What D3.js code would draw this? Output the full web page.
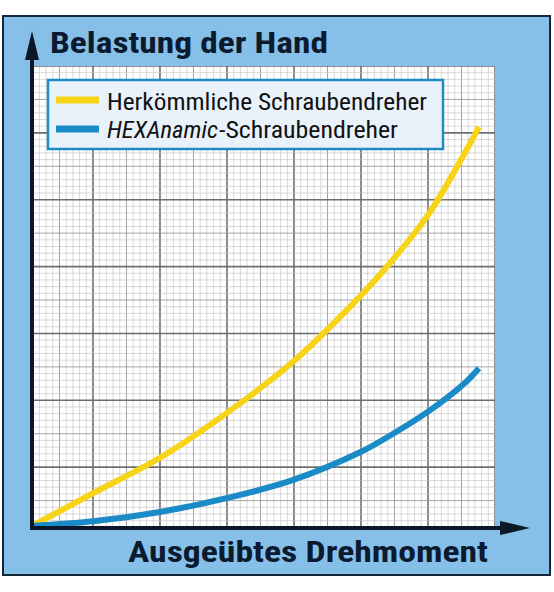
<!DOCTYPE html>
<html>
<head>
<meta charset="utf-8">
<script src="https://cdn.jsdelivr.net/npm/d3@7"></script>
<style>
  body { margin: 0; background: #fff; }
  svg { display: block; }
</style>
</head>
<body>
<svg id="chart"></svg>
<script>
// data: x = Drehmoment, y = Belastung, in small-grid units (10 = one big square)
const drehmoment = [0, 9.1, 19.1, 29.2, 39.0, 49.1, 53.4, 59.1, 64.6, 66.7];
const herkoemmlich = [0.3, 5.2, 10.5, 17.3, 24.9, 34.8, 39.6, 46.8, 56.1, 60.0];
const hexanamic = [0.3, 1.0, 2.4, 4.5, 7.2, 11.4, 13.8, 17.4, 21.7, 23.9];
const seriesNames = ["Herkömmliche Schraubendreher", "HEXAnamic-Schraubendreher"];
const seriesColors = ["#f7d417", "#1b8bc7"];

const width = 554, height = 592;
const plot = { left: 32, right: 495, top: 66, bottom: 528 };

const svg = d3.select("#chart")
    .attr("width", width)
    .attr("height", height);

// scales (origin at the axis corner)
let x = d3.scaleLinear()
    .domain([0, 69.1])
    .range([plot.left, plot.right]);

let y = d3.scaleLinear()
    .domain([0, 69.1])
    .range([plot.bottom, plot.top]);

// outer panel
svg.append("rect")
    .attr("x", 3).attr("y", 16)
    .attr("width", 547).attr("height", 559)
    .attr("fill", "#86bfe7")
    .attr("stroke", "#14263a")
    .attr("stroke-width", 2);

// graph paper
svg.append("defs").append("clipPath").attr("id", "paper")
  .append("rect")
    .attr("x", plot.left).attr("y", plot.top)
    .attr("width", plot.right - plot.left)
    .attr("height", plot.bottom - plot.top);

const paper = svg.append("g").attr("clip-path", "url(#paper)");
paper.append("rect")
    .attr("x", plot.left).attr("y", plot.top)
    .attr("width", plot.right - plot.left)
    .attr("height", plot.bottom - plot.top)
    .attr("fill", "#ffffff");

// grid lines every small unit, offset like a cut sheet of paper
const gridVals = d3.range(0, 71).map(i => i - 0.9);
function gridStyle(sel) {
    sel.attr("stroke", (d, i) => i % 10 === 0 ? "#6e6e6e" : i % 5 === 0 ? "#9a9a9a" : "#c0c0c0")
       .attr("stroke-width", (d, i) => i % 10 === 0 ? 1.6 : i % 5 === 0 ? 0.9 : 0.6);
}
paper.append("g").selectAll("line")
  .data(gridVals)
  .join("line")
    .attr("x1", d => x(d)).attr("x2", d => x(d))
    .attr("y1", plot.top).attr("y2", plot.bottom)
    .call(gridStyle);
paper.append("g").selectAll("line")
  .data(gridVals)
  .join("line")
    .attr("y1", d => y(d)).attr("y2", d => y(d))
    .attr("x1", plot.left).attr("x2", plot.right)
    .call(gridStyle);

// curves
const line = d3.line()
    .x(d => x(d[0]))
    .y(d => y(d[1]))
    .curve(d3.curveCatmullRom.alpha(0.5));

[herkoemmlich, hexanamic].forEach((vals, k) => {
    svg.append("path")
        .datum(drehmoment.map((t, i) => [t, vals[i]]))
        .attr("fill", "none")
        .attr("stroke", seriesColors[k])
        .attr("stroke-width", 6)
        .attr("stroke-linecap", "butt")
        .attr("d", line);
});

// axes with arrows
const axisColor = "#0b1626";
svg.append("line")
    .attr("x1", plot.left).attr("x2", plot.left)
    .attr("y1", plot.bottom + 2).attr("y2", 58)
    .attr("stroke", axisColor).attr("stroke-width", 4);
svg.append("line")
    .attr("x1", plot.left - 2).attr("x2", 502)
    .attr("y1", plot.bottom).attr("y2", plot.bottom)
    .attr("stroke", axisColor).attr("stroke-width", 4);
svg.append("path")
    .attr("d", "M25,60 L32,31 L39,60 Z")
    .attr("fill", axisColor);
svg.append("path")
    .attr("d", "M500,521 L530,528 L500,535 Z")
    .attr("fill", axisColor);

// titles
const condensed = "'Liberation Sans Narrow', 'Arial Narrow', 'Roboto Condensed', 'Liberation Sans', sans-serif";
svg.append("text")
    .attr("x", 50).attr("y", 53)
    .attr("font-family", condensed)
    .attr("font-weight", "bold")
    .attr("font-size", 30)
    .attr("fill", "#0c1a30")
    .attr("textLength", 278)
    .attr("lengthAdjust", "spacingAndGlyphs")
    .text("Belastung der Hand");

svg.append("text")
    .attr("x", 128).attr("y", 562)
    .attr("font-family", condensed)
    .attr("font-weight", "bold")
    .attr("font-size", 30)
    .attr("fill", "#0c1a30")
    .attr("textLength", 360)
    .attr("lengthAdjust", "spacingAndGlyphs")
    .text("Ausgeübtes Drehmoment");

// legend
const legend = svg.append("g");
legend.append("rect")
    .attr("x", 48).attr("y", 80)
    .attr("width", 395).attr("height", 69)
    .attr("fill", "#e9f2fa")
    .attr("stroke", "#1d8cc2")
    .attr("stroke-width", 2.5);

seriesColors.forEach((c, k) => {
    legend.append("line")
        .attr("x1", 56).attr("x2", 99)
        .attr("y1", 100 + k * 29).attr("y2", 100 + k * 29)
        .attr("stroke", c)
        .attr("stroke-width", 7);
});

legend.append("text")
    .attr("x", 107).attr("y", 110)
    .attr("font-family", condensed)
    .attr("font-size", 24)
    .attr("fill", "#111")
    .attr("textLength", 320)
    .attr("lengthAdjust", "spacingAndGlyphs")
    .text(seriesNames[0]);

legend.append("text")
    .attr("x", 107).attr("y", 138)
    .attr("font-family", condensed)
    .attr("font-size", 24)
    .attr("font-style", "italic")
    .attr("fill", "#111")
    .attr("textLength", 111)
    .attr("lengthAdjust", "spacingAndGlyphs")
    .text(seriesNames[1].split("-")[0]);

legend.append("text")
    .attr("x", 219).attr("y", 138)
    .attr("font-family", condensed)
    .attr("font-size", 24)
    .attr("fill", "#111")
    .attr("textLength", 179)
    .attr("lengthAdjust", "spacingAndGlyphs")
    .text("-" + seriesNames[1].split("-")[1]);
</script>
</body>
</html>
